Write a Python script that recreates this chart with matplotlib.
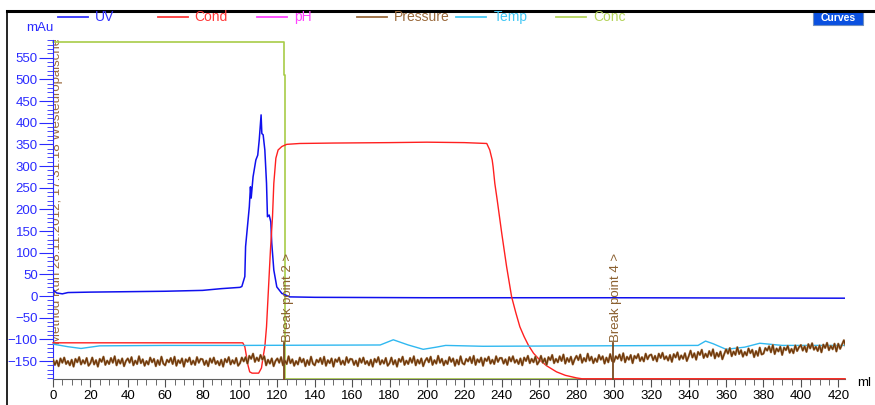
import numpy as np
import matplotlib
matplotlib.use("Agg")
import matplotlib.pyplot as plt
from matplotlib.lines import Line2D
from matplotlib.patches import Rectangle

plt.rcParams['font.family'] = ['Liberation Sans', 'DejaVu Sans']

# UV (mAu)
uv_ml = [0, 2, 5, 8, 20, 40, 60, 80, 90, 100, 101, 102.6, 103, 105, 105.6, 106, 107,
         108.5, 109.5, 110.3, 111.3, 111.7, 112.4, 113.3, 114.2, 114.7, 115.6, 116.5,
         117, 118.1, 119.7, 122.4, 126.6, 140, 200, 300, 420, 423.6]
uv = [14, 7, 5, 8, 9, 10, 11, 13, 17, 20, 22, 45, 114, 206, 252, 226, 275,
      314, 325, 360, 418, 375, 372, 337, 260, 183, 187, 171,
      122, 60, 21, 6, -2, -3, -4, -4, -5, -5]

# conductivity (drawn on the mAu scale as shown)
cond_ml = [0, 101.5, 102.6, 104.3, 105.2, 106.5, 110, 111.5, 112.4, 113.3, 114.2, 116.3,
           117.4, 118.1, 119.2, 120.4, 122.4, 125, 132, 150, 180, 200, 220, 232,
           233.6, 234.9, 235.4, 236.3, 237.6, 240, 242.6, 245.3, 247.5, 249.7, 252,
           254.2, 257, 260.4, 264, 269.3, 274, 280, 283, 423.6]
cond = [-108, -108, -117, -160, -175, -178, -178, -166, -140, -117, -71, 106,
        183, 260, 318, 337, 345, 350, 352, 353, 354, 355, 354, 352,
        337, 314, 298, 260, 221, 145, 68, -2, -38, -71, -94,
        -113, -132, -148, -161, -175, -183, -189, -191, -191]

# temperature
temp_ml = [0, 8, 15, 25, 60, 100, 175, 182, 190, 198, 205, 210, 230, 345, 349, 353,
           360, 370, 378, 390, 423.6]
temp = [-111, -117, -121, -115, -114, -114, -113, -101, -113, -123, -118, -114, -116, -114,
        -104, -110, -123, -118, -109, -114, -114]

# concentration
conc_ml = [0, 123.4, 123.4, 124.0, 124.0, 423.6]
conc = [587, 587, 510, 510, -191, -191]

# pressure, read every 1 ml (one row = 20 ml)
pressure_ml = np.arange(0, 425, 1)
pressure = [
    -146, -159, -149, -162, -144, -154, -142, -157, -150, -160, -147, -163, -145, -153, -141, -158, -148, -156, -143, -161,
    -155, -142, -158, -148, -163, -145, -152, -140, -159, -149, -157, -143, -154, -139, -160, -147, -156, -144, -162, -150,
    -144, -154, -141, -160, -149, -157, -139, -155, -146, -161, -150, -158, -142, -153, -145, -162, -148, -159, -140, -156,
    -160, -147, -153, -143, -157, -140, -161, -148, -155, -144, -163, -146, -152, -142, -158, -149, -159, -141, -154, -145,
    -146, -159, -149, -162, -144, -154, -142, -157, -150, -160, -147, -163, -145, -153, -141, -158, -148, -156, -143, -161,
    -155, -142, -151, -141, -156, -138, -145, -133, -152, -142, -150, -136, -147, -139, -160, -147, -156, -144, -162, -150,
    -144, -154, -141, -160, -149, -157, -139, -155, -146, -161, -150, -158, -142, -153, -145, -162, -148, -159, -140, -156,
    -160, -147, -153, -143, -157, -140, -161, -148, -155, -144, -163, -146, -152, -142, -158, -149, -159, -141, -154, -145,
    -146, -159, -149, -162, -144, -154, -142, -157, -150, -160, -147, -163, -145, -153, -141, -158, -148, -156, -143, -161,
    -155, -142, -158, -148, -163, -145, -152, -140, -159, -149, -157, -143, -154, -139, -160, -147, -156, -144, -162, -150,
    -143, -153, -140, -159, -148, -156, -138, -154, -145, -160, -149, -157, -141, -152, -144, -161, -147, -158, -139, -155,
    -158, -145, -151, -141, -155, -138, -159, -146, -153, -142, -161, -144, -150, -140, -156, -147, -157, -139, -152, -143,
    -143, -156, -146, -159, -141, -151, -139, -154, -147, -157, -144, -160, -142, -150, -138, -155, -145, -153, -140, -158,
    -151, -138, -154, -144, -159, -141, -148, -136, -155, -145, -153, -139, -150, -135, -156, -143, -152, -140, -158, -146,
    -138, -148, -135, -154, -143, -151, -133, -149, -140, -155, -144, -152, -136, -147, -139, -156, -142, -153, -134, -150,
    -152, -139, -145, -135, -149, -132, -153, -140, -147, -136, -155, -138, -144, -134, -150, -141, -151, -133, -146, -137,
    -135, -148, -138, -151, -133, -143, -131, -146, -139, -149, -136, -152, -134, -142, -130, -147, -137, -145, -132, -150,
    -139, -126, -142, -132, -147, -129, -136, -124, -143, -133, -141, -127, -138, -123, -144, -131, -140, -128, -146, -134,
    -123, -133, -120, -139, -128, -136, -118, -134, -125, -140, -129, -137, -121, -132, -124, -141, -127, -138, -119, -135,
    -133, -120, -126, -116, -130, -113, -134, -121, -128, -117, -136, -119, -125, -115, -131, -122, -132, -114, -127, -118,
    -113, -126, -116, -129, -111, -121, -109, -124, -117, -127, -114, -130, -112, -120, -108, -125, -115, -123, -110, -128,
    -110, -122, -112, -102, -116,
]

break_ml = [123.8, 299.3]
break_labels = ['Break point 2 >', 'Break point 4 >']

curve_names = ['UV', 'Cond', 'pH', 'Pressure', 'Temp', 'Conc']
curve_colors = ['#3535ff', '#ff3a3a', '#ff44ff', '#9b6a3c', '#44c8f5', '#b5d45c']

W, H = 875, 405
fig = plt.figure(figsize=(W / 100, H / 100), dpi=100)
ax = fig.add_axes([53 / W, 1 - 379 / H, 792 / W, 339 / H])

ax.plot(conc_ml, conc, color='#a8cc48', lw=1.2, zorder=2, clip_on=False)
ax.plot(uv_ml, uv, color='#1010ee', lw=1.1, zorder=3)
ax.plot(cond_ml, cond, color='#ff2020', lw=1.0, zorder=3, clip_on=False)
ax.plot(temp_ml, temp, color='#30b8f0', lw=1.0, zorder=3)
ax.plot(pressure_ml, pressure, color='#b08a62', lw=1.6, zorder=4)
ax.plot(pressure_ml, pressure, color='#6e3608', lw=0.9, zorder=4)

for bx, lab in zip(break_ml, break_labels):
    ax.plot([bx, bx], [-191, -108], color='#7a4a20', lw=1.3, zorder=5, clip_on=False)
    ax.text(bx + 1.8, -106, lab, rotation=90, ha='center', va='bottom',
            color='#8b6030', fontsize=9.5, zorder=5)

# run info text, clipped at both plot edges
ax.text(2.0, -110, 'Method Run 28.11.2012, 17:31:18 Westeuropäische Normalzeit',
        rotation=90, ha='center', va='bottom', color='#9b6a3c', fontsize=9.5,
        clip_on=True, zorder=1)
ax.text(427.2, -110, 'Method Run 28.11.2012, 14:11:07 Westeuropäische Normalzeit',
        rotation=90, ha='center', va='bottom', color='#9b6a3c', fontsize=9.5,
        clip_on=True, zorder=1)

ax.set_xlim(0, 423.6)
ax.set_ylim(-191.5, 590.8)
ax.set_xticks(np.arange(0, 421, 20))
ax.set_xticks(np.arange(0, 424, 5), minor=True)
ax.set_yticks(np.arange(-150, 551, 50))
ax.set_yticks(np.arange(-190, 591, 10), minor=True)

ax.spines['top'].set_visible(False)
ax.spines['right'].set_visible(False)
ax.spines['left'].set_color('#2a2aff')
ax.spines['bottom'].set_color('#606060')
ax.tick_params(axis='y', which='major', length=10, color='#2a2aff', labelcolor='#2a2aff',
               labelsize=9.5, pad=1)
ax.tick_params(axis='y', which='minor', length=4, color='#2a2aff')
ax.tick_params(axis='x', which='major', length=6, color='#505050', labelsize=9.5, pad=2)
ax.tick_params(axis='x', which='minor', length=4, color='#505050')

fig.text(53 / W, 1 - 28 / H, 'mAu', color='#2a2aff', fontsize=9.5, ha='right', va='center')
fig.text(857 / W, 1 - 383 / H, 'ml', color='black', fontsize=9.5, ha='left', va='center')

# legend row
for i, (name, col) in enumerate(zip(curve_names, curve_colors)):
    x0 = 58 + 99.6 * i
    fig.add_artist(Line2D([x0 / W, (x0 + 30) / W], [1 - 17 / H] * 2, color=col, lw=1.3,
                          transform=fig.transFigure))
    fig.text((x0 + 37) / W, 1 - 17 / H, name, color=col, fontsize=10, ha='left', va='center')

# window frame
fig.add_artist(Line2D([7 / W, 1], [1 - 11 / H] * 2, color='black', lw=2.2,
                      transform=fig.transFigure))
fig.add_artist(Line2D([7 / W, 7 / W], [0, 1 - 11 / H], color='black', lw=1.2,
                      transform=fig.transFigure))

# Curves button
fig.add_artist(Rectangle((813 / W, 1 - 25 / H), 50 / W, 14 / H, transform=fig.transFigure,
                         facecolor='#0a50e0', edgecolor='#7090c0', lw=0.8))
fig.text(838 / W, 1 - 18 / H, 'Curves', color='white', fontsize=7.5, fontweight='bold',
         ha='center', va='center')

fig.savefig('out.png', dpi=100)
